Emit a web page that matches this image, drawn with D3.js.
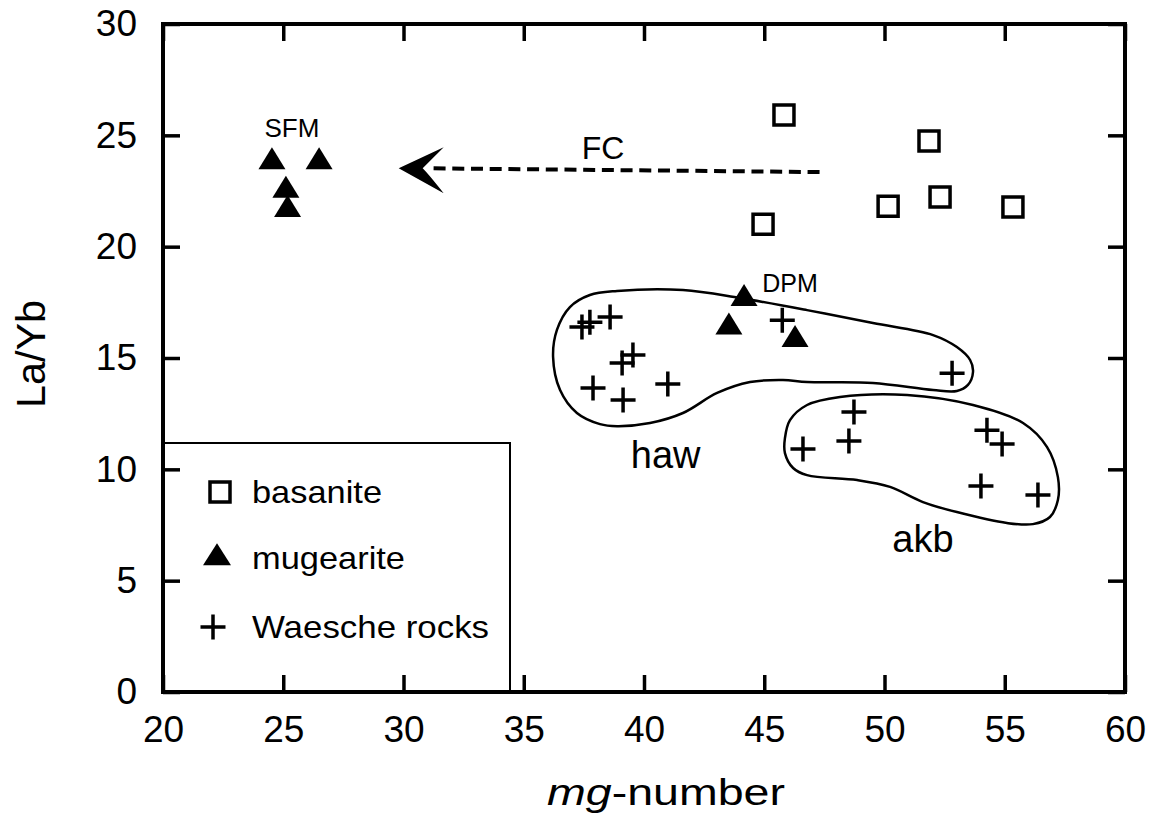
<!DOCTYPE html>
<html>
<head>
<meta charset="utf-8">
<script src="https://cdn.jsdelivr.net/npm/d3@7"></script>
<style>
  html, body { margin: 0; padding: 0; background: #fff; }
  svg text { font-family: "Liberation Sans", Arial, Helvetica, sans-serif; fill: #000; }
</style>
</head>
<body>
<svg id="chart" width="1154" height="833"></svg>
<script>
// ---- data -------------------------------------------------------------
// basanite samples: [mg-number, La/Yb]
const basanite = [
  [45.82, 25.91], [51.85, 24.74], [52.31, 22.23],
  [50.15, 21.82], [44.95, 21.01], [55.34, 21.78]
];
// mugearite samples (SFM group near mg 25, DPM group near mg 44)
const mugearite = [
  [24.53, 23.81], [26.49, 23.81], [25.11, 22.53], [25.18, 21.66],
  [44.16, 17.66], [43.53, 16.39], [46.28, 15.82]
];
// Waesche rocks
const waesche = [
  [37.42, 16.39], [37.75, 16.61], [38.59, 16.84], [39.09, 14.77],
  [39.54, 15.13], [37.88, 13.65], [39.13, 13.11], [40.99, 13.83],
  [45.75, 16.70], [52.81, 14.32],
  [48.73, 12.57], [48.52, 11.27], [46.61, 10.91], [54.26, 11.76],
  [54.89, 11.14], [54.01, 9.25], [56.38, 8.85]
];
// outline of the hawaiite field
const hawOutline = [
  [36.22, 15.04], [36.38, 16.26], [36.92, 17.29], [37.75, 17.83], [38.88, 18.01],
  [41.62, 18.05], [43.99, 17.69], [46.78, 17.15], [49.52, 16.57], [52.02, 16.03],
  [53.01, 15.49], [53.56, 14.91], [53.68, 14.37], [53.47, 13.79], [53.01, 13.52],
  [52.02, 13.56], [49.52, 13.88], [46.78, 13.92], [45.78, 14.01], [44.41, 13.92],
  [43.04, 13.43], [41.62, 12.53], [40.25, 12.08], [38.88, 11.94], [38.17, 12.03],
  [37.21, 12.53], [36.51, 13.56]
];
// outline of the alkali basalt field
const akbOutline = [
  [45.86, 11.40], [46.07, 12.21], [46.78, 12.89], [48.15, 13.25], [50.94, 13.34],
  [53.68, 12.89], [55.76, 12.08], [56.76, 11.00], [57.21, 9.65], [57.21, 8.62],
  [56.88, 7.86], [56.17, 7.54], [55.09, 7.59], [53.01, 8.08], [51.60, 8.53],
  [50.23, 9.21], [48.86, 9.52], [46.78, 9.74], [46.20, 10.06], [45.86, 10.73]
];
// fractional crystallisation trend: start and end (mg-number, La/Yb)
const fcTrend = [[47.3, 23.35], [29.8, 23.52]];
// text annotations: [label, mg-number, La/Yb]
const annotations = [
  ["SFM", 25.36, 24.92],
  ["DPM", 46.07, 17.96],
  ["FC", 38.3, 23.93],
  ["haw", 40.9, 10.06],
  ["akb", 51.6, 6.27]
];
const xTicks = [20, 25, 30, 35, 40, 45, 50, 55, 60];
const yTicks = [0, 5, 10, 15, 20, 25, 30];
const legendItems = ["basanite", "mugearite", "Waesche rocks"];

// ---- layout -----------------------------------------------------------
const plot = { left: 163, right: 1125, top: 24, bottom: 692 };
const svg = d3.select("#chart");

const x = d3.scaleLinear().domain([20, 60]).range([plot.left, plot.right]);
const y = d3.scaleLinear().domain([0, 30]).range([plot.bottom, plot.top]);

// symbol generators (pixel sizes)
const squarePath = s => `M${-s/2},${-s/2}H${s/2}V${s/2}H${-s/2}Z`;
const trianglePath = (w, h) => `M0,${-2*h/3}L${w/2},${h/3}L${-w/2},${h/3}Z`;
const crossPath = s => `M${-s/2},0H${s/2}M0,${-s/2}V${s/2}`;

// ---- legend box (drawn first so axis ticks show over it) --------------
const legend = svg.append("g");
legend.append("rect")
  .attr("x", plot.left).attr("y", 443)
  .attr("width", 510 - plot.left).attr("height", plot.bottom - 443)
  .attr("fill", "none").attr("stroke", "#000").attr("stroke-width", 2);

const legendRowY = [492, 558, 627];
const legendTextLen = [130, 153, 237];
legendItems.forEach((name, i) => {
  const g = legend.append("g").attr("transform", `translate(217,${legendRowY[i]})`);
  if (i === 0) {
    g.append("path").attr("d", squarePath(20)).attr("transform", "translate(3,0)")
      .attr("fill", "none").attr("stroke", "#000").attr("stroke-width", 3.5);
  } else if (i === 1) {
    g.append("path").attr("d", trianglePath(28, 22)).attr("fill", "#000");
  } else {
    g.append("path").attr("d", crossPath(25)).attr("transform", "translate(-4,0)")
      .attr("stroke", "#000").attr("stroke-width", 3.5);
  }
  legend.append("text")
    .attr("x", 252).attr("y", legendRowY[i] + 11)
    .attr("font-size", 32)
    .attr("textLength", legendTextLen[i]).attr("lengthAdjust", "spacingAndGlyphs")
    .text(name);
});

// ---- axes -------------------------------------------------------------
const tickLen = 17;
function styleAxis(g) {
  g.select(".domain").remove();
  g.selectAll(".tick line").attr("stroke", "#000").attr("stroke-width", 3.5);
  g.selectAll(".tick text").attr("font-size", 37).attr("fill", "#000")
    .attr("font-family", "Liberation Sans, Arial, sans-serif");
}
svg.append("g").attr("transform", `translate(0,${plot.bottom})`)
  .call(d3.axisBottom(x).tickValues(xTicks).tickSize(-tickLen).tickPadding(24).tickFormat(d3.format("d")))
  .call(styleAxis);
svg.append("g").attr("transform", `translate(0,${plot.top})`)
  .call(d3.axisTop(x).tickValues(xTicks).tickSize(-tickLen).tickFormat(""))
  .call(styleAxis);
svg.append("g").attr("transform", `translate(${plot.left},0)`)
  .call(d3.axisLeft(y).tickValues(yTicks).tickSize(-tickLen).tickPadding(26).tickFormat(d3.format("d")))
  .call(styleAxis);
svg.append("g").attr("transform", `translate(${plot.right},0)`)
  .call(d3.axisRight(y).tickValues(yTicks).tickSize(-tickLen).tickFormat(""))
  .call(styleAxis);

// plot frame
svg.append("rect")
  .attr("x", plot.left).attr("y", plot.top)
  .attr("width", plot.right - plot.left).attr("height", plot.bottom - plot.top)
  .attr("fill", "none").attr("stroke", "#000").attr("stroke-width", 4);

// axis titles
svg.append("text")
  .attr("x", 666).attr("y", 805)
  .attr("text-anchor", "middle").attr("font-size", 36)
  .attr("textLength", 238).attr("lengthAdjust", "spacingAndGlyphs")
  .call(t => {
    t.append("tspan").attr("font-style", "italic").text("mg");
    t.append("tspan").text("-number");
  });
svg.append("text")
  .attr("transform", "translate(45,354) rotate(-90)")
  .attr("text-anchor", "middle").attr("font-size", 40)
  .attr("textLength", 108).attr("lengthAdjust", "spacingAndGlyphs")
  .text("La/Yb");

// ---- field outlines ---------------------------------------------------
const outline = d3.line().x(d => x(d[0])).y(d => y(d[1])).curve(d3.curveCatmullRomClosed.alpha(0.5));
svg.selectAll("path.field")
  .data([hawOutline, akbOutline])
  .join("path").attr("class", "field")
  .attr("d", outline)
  .attr("fill", "none").attr("stroke", "#000").attr("stroke-width", 2.5);

// ---- FC trend arrow ---------------------------------------------------
const [fcStart, fcEnd] = fcTrend;
const tipX = x(fcEnd[0]), tipY = y(fcEnd[1]);
svg.append("line")
  .attr("x1", x(fcStart[0])).attr("y1", y(fcStart[1]))
  .attr("x2", tipX + 30).attr("y2", tipY)
  .attr("stroke", "#000").attr("stroke-width", 4)
  .attr("stroke-dasharray", "12,6.7");
svg.append("path")
  .attr("transform", `translate(${tipX},${tipY})`)
  .attr("d", "M0,0 L45,-21 Q30,-6 24,0 Q30,6 45,25 Z")
  .attr("fill", "#000");

// ---- data points ------------------------------------------------------
svg.append("g").selectAll("path")
  .data(basanite).join("path")
  .attr("transform", d => `translate(${x(d[0])},${y(d[1])})`)
  .attr("d", squarePath(20))
  .attr("fill", "none").attr("stroke", "#000").attr("stroke-width", 3.5);

svg.append("g").selectAll("path")
  .data(mugearite).join("path")
  .attr("transform", d => `translate(${x(d[0])},${y(d[1])})`)
  .attr("d", trianglePath(27, 22))
  .attr("fill", "#000");

svg.append("g").selectAll("path")
  .data(waesche).join("path")
  .attr("transform", d => `translate(${x(d[0])},${y(d[1])})`)
  .attr("d", crossPath(25))
  .attr("stroke", "#000").attr("stroke-width", 3.5);

// ---- annotations ------------------------------------------------------
const annoSize = { SFM: 26, DPM: 25, FC: 32, haw: 38, akb: 38 };
svg.append("g").selectAll("text")
  .data(annotations).join("text")
  .attr("x", d => x(d[1])).attr("y", d => y(d[2]))
  .attr("text-anchor", "middle")
  .attr("font-size", d => annoSize[d[0]])
  .text(d => d[0]);
</script>
</body>
</html>
